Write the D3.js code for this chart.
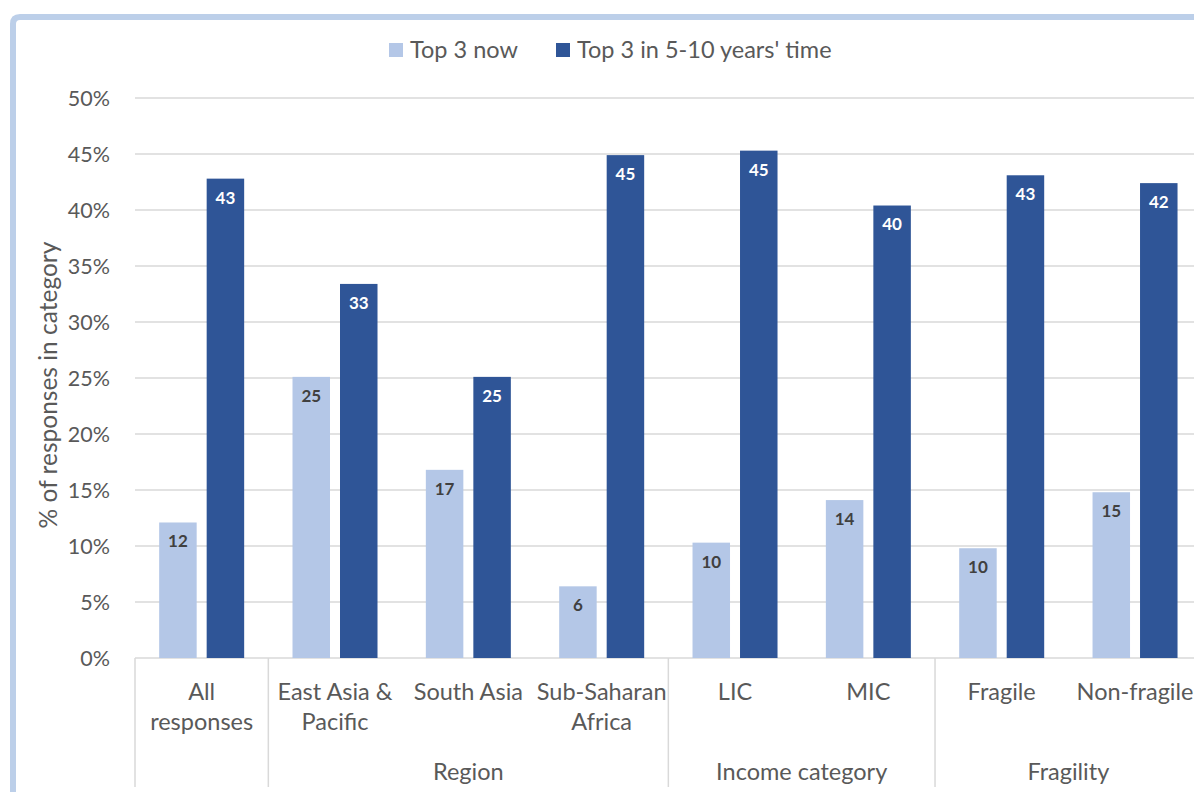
<!DOCTYPE html>
<html>
<head>
<meta charset="utf-8">
<script src="https://cdn.jsdelivr.net/npm/d3@7"></script>
<style>
  html, body { margin: 0; padding: 0; background: #fff; }
  svg { display: block; font-family: Lato, "Open Sans", sans-serif; }
</style>
</head>
<body>
<svg id="chart" width="1194" height="792"></svg>
<script>
const categories = ["All responses", "East Asia & Pacific", "South Asia", "Sub-Saharan Africa", "LIC", "MIC", "Fragile", "Non-fragile"];
const categoryLines = [["All", "responses"], ["East Asia &", "Pacific"], ["South Asia"], ["Sub-Saharan", "Africa"], ["LIC"], ["MIC"], ["Fragile"], ["Non-fragile"]];
const groups = [
  { name: "", from: 0, to: 0 },
  { name: "Region", from: 1, to: 3 },
  { name: "Income category", from: 4, to: 5 },
  { name: "Fragility", from: 6, to: 7 }
];
const seriesNames = ["Top 3 now", "Top 3 in 5-10 years' time"];
const topNow = [12.1, 25.1, 16.8, 6.4, 10.3, 14.1, 9.8, 14.8];
const topFuture = [42.8, 33.4, 25.1, 44.9, 45.3, 40.4, 43.1, 42.4];
const yTicks = [0, 5, 10, 15, 20, 25, 30, 35, 40, 45, 50];
const colors = ["#b4c7e7", "#2f5597"];

(function () {
const svg = d3.select("#chart");
const pLeft = 135, pRight = 1201.7, pTop = 98, pBottom = 658;
const textColor = "#595959";

// frame
svg.append("path")
  .attr("d", "M13,800 L13,24 Q13,17 20,17 L1210,17")
  .attr("fill", "none").attr("stroke", "#bccfe9").attr("stroke-width", 6);

const x0 = d3.scaleBand().domain(d3.range(categories.length)).range([pLeft, pRight]).padding(0);
const pairW = 85;
const x1 = d3.scaleBand().domain([0, 1]).range([0, pairW]).paddingInner(10 / 47.5).paddingOuter(0);
const y = d3.scaleLinear().domain([0, 50]).range([pBottom, pTop]);

// gridlines
svg.append("g").selectAll("line").data(yTicks).join("line")
  .attr("x1", pLeft).attr("x2", 1204)
  .attr("y1", d => y(d)).attr("y2", d => y(d))
  .attr("stroke", "#d9d9d9").attr("stroke-width", 1.5);

// y tick labels
svg.append("g").selectAll("text").data(yTicks).join("text")
  .attr("x", 110).attr("y", d => y(d)).attr("dy", "0.35em")
  .attr("text-anchor", "end").attr("fill", textColor).attr("font-size", 21.5)
  .text(d => d + "%");

// y title
svg.append("text")
  .attr("transform", `translate(48,385) rotate(-90)`)
  .attr("text-anchor", "middle").attr("dy", "0.35em")
  .attr("fill", textColor).attr("font-size", 24.5)
  .text("% of responses in category");

// bars
const series = [topNow, topFuture];
const barsG = svg.append("g");
series.forEach((vals, si) => {
  const off = (x0.bandwidth() - pairW) / 2;
  barsG.append("g").selectAll("rect").data(vals).join("rect")
    .attr("x", (d, i) => x0(i) + off + x1(si))
    .attr("width", x1.bandwidth())
    .attr("y", d => y(d))
    .attr("height", d => y(0) - y(d))
    .attr("fill", colors[si]);
  barsG.append("g").selectAll("text").data(vals).join("text")
    .attr("x", (d, i) => x0(i) + off + x1(si) + x1.bandwidth() / 2)
    .attr("y", d => y(d) + 19).attr("dy", "0.35em")
    .attr("text-anchor", "middle").attr("font-weight", "bold").attr("font-size", 17)
    .attr("fill", si === 0 ? "#404040" : "#ffffff")
    .text(d => Math.round(d));
});

// category labels
const catG = svg.append("g");
categoryLines.forEach((lines, i) => {
  const cx = x0(i) + x0.bandwidth() / 2;
  const t = catG.append("text")
    .attr("x", cx).attr("y", 692)
    .attr("text-anchor", "middle").attr("fill", textColor).attr("font-size", 23.5);
  lines.forEach((l, k) => {
    t.append("tspan").attr("x", cx).attr("dy", k === 0 ? "0.35em" : 30).text(l);
  });
});

// separators
const sepIdx = [0, 1, 4, 6];
svg.append("g").selectAll("line").data(sepIdx).join("line")
  .attr("x1", d => x0(d)).attr("x2", d => x0(d))
  .attr("y1", pBottom).attr("y2", 787)
  .attr("stroke", "#d9d9d9").attr("stroke-width", 1.5);

// group labels
svg.append("g").selectAll("text").data(groups.filter(g => g.name)).join("text")
  .attr("x", g => (x0(g.from) + x0(g.to) + x0.bandwidth()) / 2)
  .attr("y", 772).attr("dy", "0.35em")
  .attr("text-anchor", "middle").attr("fill", textColor).attr("font-size", 23.5)
  .text(g => g.name);

// legend
const legendPos = [389, 556];
const lg = svg.append("g");
seriesNames.forEach((n, i) => {
  lg.append("rect").attr("x", legendPos[i]).attr("y", 43).attr("width", 14).attr("height", 14).attr("fill", colors[i]);
  lg.append("text").attr("x", legendPos[i] + 21).attr("y", 50).attr("dy", "0.35em")
    .attr("fill", textColor).attr("font-size", 23.5).text(n);
});
})();
</script>
</body>
</html>
